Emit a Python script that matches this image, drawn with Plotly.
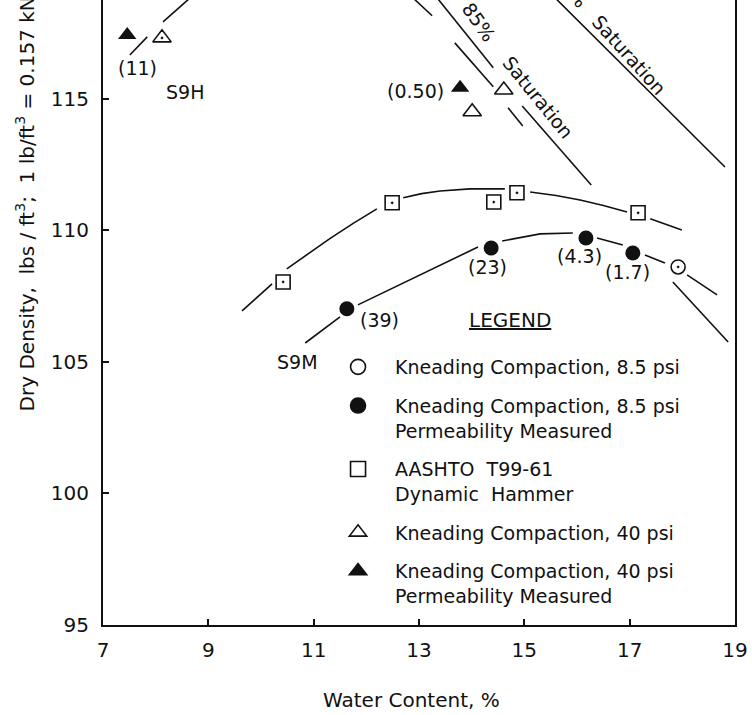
import plotly.graph_objects as go

# ---- measured points: water content (%) and dry density (lb/ft^3) ----
# Kneading compaction, 8.5 psi, permeability measured (soil S9M)
kc85_perm_w = [11.63, 14.37, 16.17, 17.06]
kc85_perm_d = [107.02, 109.33, 109.71, 109.14]
kc85_perm_k = ["(39)", "(23)", "(4.3)", "(1.7)"]

# Kneading compaction, 8.5 psi
kc85_w = [17.92]
kc85_d = [108.61]

# AASHTO T99-61, dynamic hammer
aashto_w = [10.42, 12.49, 14.42, 14.86, 17.16]
aashto_d = [108.04, 111.05, 111.08, 111.43, 110.67]

# Kneading compaction, 40 psi (soil S9H)
kc40_w = [8.12, 14.01, 14.61]
kc40_d = [117.32, 114.51, 115.34]

# Kneading compaction, 40 psi, permeability measured
kc40_perm_w = [7.46, 13.78]
kc40_perm_d = [117.43, 115.42]
kc40_perm_k = ["(11)", "(0.50)"]

# ---- hand-fitted curves (None breaks the line around a symbol) ----
s9m_curve_w = [10.84, 11.50, None, 11.84, 12.45, 13.02, 13.58, 14.12, None, 14.58, 15.30, 15.92,
               None, 16.38, 16.87, None, 17.29, 17.67, None, 18.09, 18.66]
s9m_curve_d = [105.72, 106.71, None, 107.17, 107.76, 108.31, 108.86, 109.37, None, 109.60, 109.87,
               109.90, None, 109.71, 109.45, None, 109.07, 108.76, None, 108.31, 107.55]

aashto_curve_w = [9.64, 10.21, None, 10.49, 10.90, 11.30, 11.75, 12.20, None, 12.70, 13.05, 13.40,
                  13.97, 14.63, None, 15.11, 15.60, 16.06, 16.50, 16.95, None, 17.39, 17.99]
aashto_curve_d = [106.94, 107.97, None, 108.54, 109.13, 109.68, 110.27, 110.82, None, 111.24,
                  111.40, 111.50, 111.58, 111.58, None, 111.46, 111.33, 111.16, 110.95, 110.70,
                  None, 110.44, 110.02]

s9h_curve_w = [7.51, 7.84, None, 8.14, 8.66, None, 12.88, 13.25, None, 13.68, 14.41,
               None, 14.69, 14.97]
s9h_curve_d = [116.67, 117.36, None, 117.93, 118.85, None, 118.85, 118.16, None, 117.13, 115.46,
               None, 114.66, 113.97]

sat85_w = [13.34, 14.41, None, 14.96, 16.27]
sat85_d = [118.85, 116.18, None, 114.73, 111.73]

sat100_w = [15.58, 18.81]
sat100_d = [118.85, 112.41]

s9m_sat_w = [17.82, 18.87]
s9m_sat_d = [108.04, 105.76]

# axis ticks
x_ticks = [7, 9, 11, 13, 15, 17, 19]
y_ticks = [95, 100, 105, 110, 115]

INK = "#111111"
FONT = "DejaVu Sans"
NB = "\u00a0"

fig = go.Figure()


def curve(w, d):
    fig.add_trace(go.Scatter(x=w, y=d, mode="lines", showlegend=False,
                             line=dict(color=INK, width=1.6), hoverinfo="skip",
                             connectgaps=False))


for w, d in [(s9m_curve_w, s9m_curve_d), (aashto_curve_w, aashto_curve_d),
             (s9h_curve_w, s9h_curve_d), (sat85_w, sat85_d), (sat100_w, sat100_d),
             (s9m_sat_w, s9m_sat_d)]:
    curve(w, d)

# data symbols
fig.add_trace(go.Scatter(x=aashto_w, y=aashto_d, mode="markers", showlegend=False,
                         marker=dict(symbol="square-open-dot", size=14, color=INK,
                                     line=dict(width=1.6, color=INK))))
fig.add_trace(go.Scatter(x=kc85_w, y=kc85_d, mode="markers", showlegend=False,
                         marker=dict(symbol="circle-open-dot", size=14, color=INK,
                                     line=dict(width=1.6, color=INK))))
fig.add_trace(go.Scatter(x=kc85_perm_w, y=kc85_perm_d, mode="markers", showlegend=False,
                         marker=dict(symbol="circle", size=15, color=INK)))
fig.add_trace(go.Scatter(x=kc40_w, y=kc40_d, mode="markers", showlegend=False,
                         marker=dict(symbol=["triangle-up-open-dot", "triangle-up-open",
                                             "triangle-up-open"],
                                     size=16, color=INK, line=dict(width=1.6, color=INK))))
fig.add_trace(go.Scatter(x=kc40_perm_w, y=kc40_perm_d, mode="markers", showlegend=False,
                         marker=dict(symbol="triangle-up", size=16, color=INK)))

# legend entries
legend_items = [
    ("Kneading Compaction, 8.5 psi", "circle-open"),
    ("Kneading Compaction, 8.5 psi<br>Permeability Measured", "circle"),
    ("AASHTO" + NB + " T99-61<br>Dynamic" + NB + " Hammer", "square-open"),
    ("Kneading Compaction, 40 psi", "triangle-up-open"),
    ("Kneading Compaction, 40 psi<br>Permeability Measured", "triangle-up"),
]
for i, (name, sym) in enumerate(legend_items):
    fig.add_trace(go.Scatter(x=[None], y=[None], mode="markers", name=name,
                             legendgroup=f"g{i}",
                             marker=dict(symbol=sym, size=15, color=INK,
                                         line=dict(width=1.6, color=INK))))

annotations = []
# permeability labels next to their points
label_font = dict(family=FONT, size=19, color=INK)
perm_shift = [(33, -11), (-4, -19), (-6, -18), (-5, -19)]
for w, d, k, (dx, dy) in zip(kc85_perm_w, kc85_perm_d, kc85_perm_k, perm_shift):
    annotations.append(dict(x=w, y=d, text=k, showarrow=False, xshift=dx, yshift=dy,
                            font=label_font))
perm40_shift = [(10, -33), (-45, -3)]
for w, d, k, (dx, dy) in zip(kc40_perm_w, kc40_perm_d, kc40_perm_k, perm40_shift):
    annotations.append(dict(x=w, y=d, text=k, showarrow=False, xshift=dx, yshift=dy,
                            font=label_font))

annotations += [
    dict(x=8.56, y=115.27, text="S9H", showarrow=False, font=label_font),
    dict(x=10.70, y=105.0, text="S9M", showarrow=False, font=label_font),
    dict(x=14.14, y=117.93, text="85%", textangle=55, showarrow=False, font=label_font),
    dict(x=15.26, y=115.08, text="Saturation", textangle=51, showarrow=False, font=label_font),
    # upper label: its "100%" runs off the top edge
    dict(x=16.53, y=117.69, text="100%" + NB * 3 + "Saturation", textangle=48,
         showarrow=False, font=label_font),
    dict(x=14.73, y=106.6, text="<u>LEGEND</u>", showarrow=False,
         font=dict(family=FONT, size=20, color=INK)),
    dict(xref="paper", yref="paper", x=-0.123, y=0.339, xanchor="center", yanchor="bottom",
         textangle=-90, showarrow=False,
         text="Dry Density," + NB + " lbs / ft<sup>3</sup>;" + NB + " 1 lb/ft<sup>3</sup> = "
              "0.157 kN/m<sup>3</sup>",
         font=dict(family=FONT, size=20, color=INK)),
    dict(xref="paper", yref="paper", x=0.488, y=-0.12, xanchor="center", yanchor="middle",
         showarrow=False, text="Water Content, %",
         font=dict(family=FONT, size=20, color=INK)),
]

fig.update_layout(
    width=752, height=715,
    margin=dict(l=103, r=17, t=0, b=90),
    paper_bgcolor="white", plot_bgcolor="white",
    font=dict(family=FONT, color=INK),
    annotations=annotations,
    showlegend=True,
    legend=dict(x=0.345, y=0.4432, xanchor="left", yanchor="top", itemwidth=64,
                valign="top", tracegroupgap=11, bgcolor="rgba(0,0,0,0)",
                font=dict(family=FONT, size=19, color=INK), itemclick=False,
                itemdoubleclick=False),
)
fig.update_xaxes(range=[7, 19], tickvals=x_ticks, ticks="inside", ticklen=6, tickwidth=1.5,
                 tickcolor=INK, showline=True, linecolor=INK, linewidth=2, mirror=False,
                 showgrid=False, zeroline=False, tickfont=dict(family=FONT, size=20, color=INK),
                 ticklabelstandoff=6)
fig.update_yaxes(range=[95, 118.76], tickvals=y_ticks, ticks="inside", ticklen=6, tickwidth=1.5,
                 tickcolor=INK, showline=True, linecolor=INK, linewidth=2, mirror=True,
                 showgrid=False, zeroline=False, tickfont=dict(family=FONT, size=20, color=INK),
                 ticklabelstandoff=8)

fig.write_html("out.html")
